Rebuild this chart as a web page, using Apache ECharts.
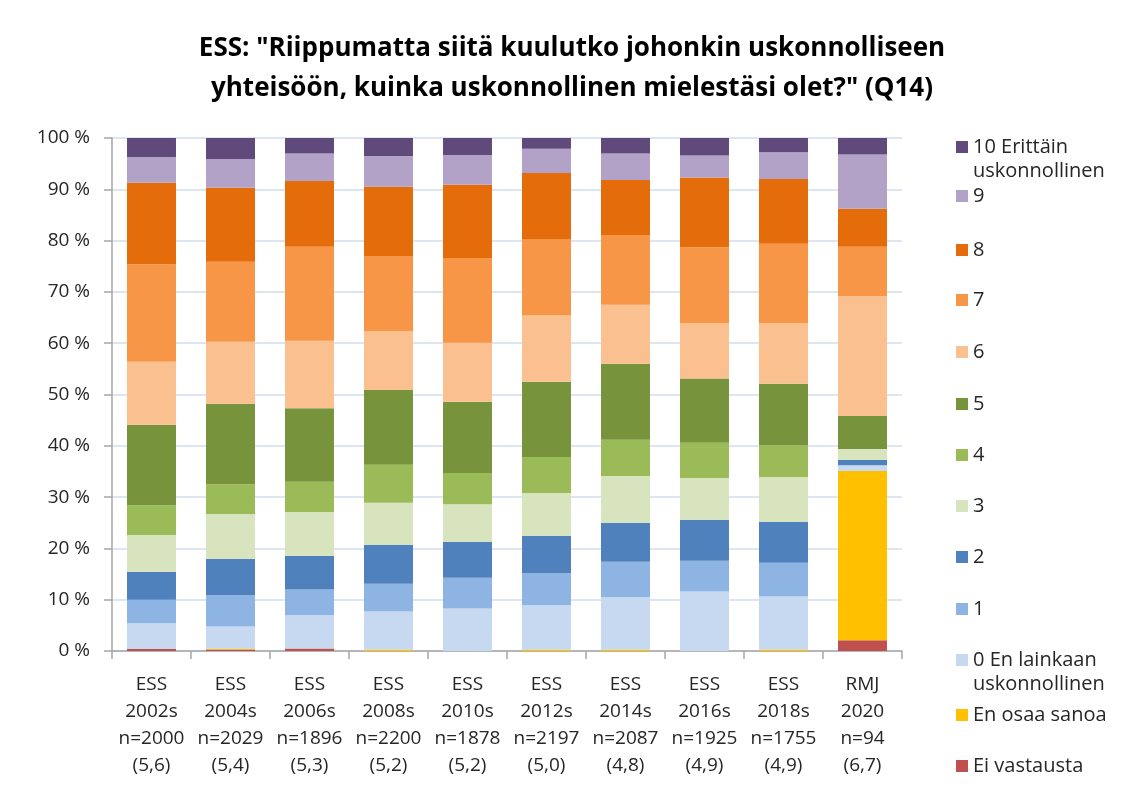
<!DOCTYPE html>
<html>
<head>
    <meta charset="utf-8">
    <title>ESS Q14</title>
    <script src="https://cdn.jsdelivr.net/npm/echarts@6/dist/echarts.min.js"></script>
    <style>
        html, body { margin: 0; padding: 0; background: #fff; }
        #main { width: 1125px; height: 803px; }
    </style>
</head>
<body>
<div id="main"></div>
<script>
    // kategoriat (x-akselin rivit)
    let source = ['ESS', 'ESS', 'ESS', 'ESS', 'ESS', 'ESS', 'ESS', 'ESS', 'ESS', 'RMJ'];
    let years = ['2002s', '2004s', '2006s', '2008s', '2010s', '2012s', '2014s', '2016s', '2018s', '2020'];
    let nValues = ['n=2000', 'n=2029', 'n=1896', 'n=2200', 'n=1878', 'n=2197', 'n=2087', 'n=1925', 'n=1755', 'n=94'];
    let means = ['(5,6)', '(5,4)', '(5,3)', '(5,2)', '(5,2)', '(5,0)', '(4,8)', '(4,9)', '(4,9)', '(6,7)'];

    let yTicks = [0, 10, 20, 30, 40, 50, 60, 70, 80, 90, 100];

    // osuudet (%), alhaalta ylös
    let eiVastausta = [0.4, 0.3, 0.5, 0, 0, 0, 0, 0, 0, 2.1];
    let enOsaa = [0, 0.2, 0, 0.3, 0, 0.3, 0.3, 0, 0.3, 33.0];
    let v0 = [5.0, 4.3, 6.5, 7.4, 8.3, 8.6, 10.2, 11.6, 10.3, 1.1];
    let v1 = [4.6, 6.1, 5.0, 5.4, 6.0, 6.3, 6.9, 6.0, 6.6, 0];
    let v2 = [5.4, 7.1, 6.5, 7.6, 7.0, 7.2, 7.6, 8.0, 8.0, 1.1];
    let v3 = [7.2, 8.7, 8.6, 8.2, 7.3, 8.4, 9.1, 8.1, 8.7, 2.1];
    let v4 = [5.8, 5.8, 5.9, 7.4, 6.1, 7.0, 7.1, 6.9, 6.2, 0];
    let v5 = [15.7, 15.7, 14.3, 14.6, 13.9, 14.7, 14.8, 12.5, 12.0, 6.4];
    let v6 = [12.3, 12.1, 13.2, 11.5, 11.5, 12.9, 11.5, 10.8, 11.8, 23.4];
    let v7 = [19.0, 15.6, 18.3, 14.6, 16.5, 14.9, 13.6, 14.8, 15.5, 9.6];
    let v8 = [15.9, 14.4, 12.8, 13.5, 14.3, 12.9, 10.7, 13.6, 12.6, 7.4];
    let v9 = [5.0, 5.6, 5.4, 6.0, 5.8, 4.7, 5.2, 4.3, 5.2, 10.6];
    let v10 = [3.7, 4.1, 3.0, 3.5, 3.3, 2.1, 3.0, 3.4, 2.8, 3.2];

    let seriesNames = ['Ei vastausta', 'En osaa sanoa', '0 En lainkaan uskonnollinen', '1', '2', '3', '4', '5',
        '6', '7', '8', '9', '10 Erittäin uskonnollinen'];
    let seriesData = [eiVastausta, enOsaa, v0, v1, v2, v3, v4, v5, v6, v7, v8, v9, v10];
    let colors = ['#C0504D', '#FFC000', '#C6D9F1', '#8EB4E3', '#4F81BD', '#D7E4BD', '#9BBB59', '#77933C',
        '#FAC090', '#F79646', '#E46C0A', '#B3A2C7', '#604A7B'];

    let categories = source.map(function (s, i) {
        return s + '\n' + years[i] + '\n' + nValues[i] + '\n' + means[i];
    });

    let font = '"Open Sans", "Liberation Sans", sans-serif';

    // legendan rivien keskikohdat (px), ylhäältä alas
    let legendCenters = [147, 196, 250, 300, 352, 404, 455, 506, 557, 609, 660, 715, 766];
    let legends = [];
    for (let k = 0; k < seriesNames.length; k++) {
        let name = seriesNames[seriesNames.length - 1 - k];
        let twoLine = name.indexOf(' uskonnollinen') > 0;
        legends.push({
            data: [name],
            left: 956,
            top: twoLine ? legendCenters[k] - 36 : legendCenters[k] - 12,
            padding: 0,
            itemWidth: 12,
            itemHeight: 12,
            selectedMode: false,
            icon: 'rect',
            formatter: function (n) {
                // tyhjä rivi ylös, jotta ensimmäinen rivi osuu merkin kohdalle
                if (n.indexOf(' uskonnollinen') > 0) {
                    return ' \n' + n.replace(' uskonnollinen', '\nuskonnollinen');
                }
                return n;
            },
            textStyle: {
                fontFamily: font,
                fontSize: 20,
                color: '#262626',
                lineHeight: 24
            }
        });
    }

    let myChart = echarts.init(document.getElementById('main'));
    myChart.setOption({
        animation: false,
        backgroundColor: '#fff',
        title: {
            text: 'ESS: "Riippumatta siitä kuulutko johonkin uskonnolliseen\nyhteisöön, kuinka uskonnollinen mielestäsi olet?" (Q14)',
            left: 567,
            top: 24,
            textAlign: 'center',
            textStyle: {
                fontFamily: font,
                fontSize: 26,
                fontWeight: 'bold',
                color: '#000',
                lineHeight: 40
            }
        },
        legend: legends,
        grid: {
            left: 112,
            right: 223,
            top: 138,
            bottom: 152,
            containLabel: false,
            outerBoundsMode: 'none'
        },
        xAxis: {
            type: 'category',
            data: categories,
            axisLine: {lineStyle: {color: '#A6A6A6', width: 1.5}},
            axisTick: {show: true, length: 8, lineStyle: {color: '#A6A6A6', width: 1.5}},
            axisLabel: {
                interval: 0,
                margin: 20,
                fontFamily: font,
                fontSize: 19,
                lineHeight: 27,
                color: '#262626'
            },
            splitLine: {show: false}
        },
        yAxis: {
            type: 'value',
            min: yTicks[0],
            max: yTicks[yTicks.length - 1],
            interval: 10,
            axisLine: {show: true, lineStyle: {color: '#A6A6A6', width: 1.5}},
            axisTick: {show: true, length: 8, lineStyle: {color: '#A6A6A6', width: 1.5}},
            axisLabel: {
                margin: 22,
                fontFamily: font,
                fontSize: 19,
                color: '#262626',
                formatter: '{value} %'
            },
            splitLine: {lineStyle: {color: '#D0DCEB', width: 1.5}}
        },
        series: seriesNames.map(function (name, i) {
            return {
                name: name,
                type: 'bar',
                stack: 'total',
                barWidth: '62%',
                data: seriesData[i],
                itemStyle: {color: colors[i]}
            };
        })
    });
</script>
</body>
</html>
